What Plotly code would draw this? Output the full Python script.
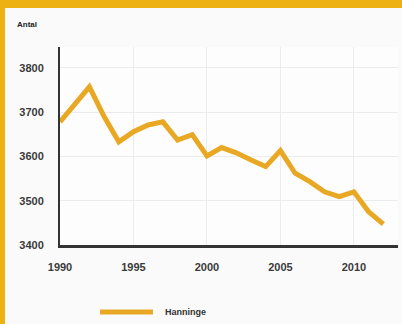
import plotly.graph_objects as go

years = list(range(1990, 2013))
values = [3678, 3718, 3757, 3690, 3633, 3656, 3671, 3678, 3637, 3649, 3601, 3620,
          3608, 3592, 3577, 3613, 3562, 3543, 3520, 3509, 3520, 3475, 3447]
series_name = "Hanninge"
y_label = "Antal"
x_ticks = [1990, 1995, 2000, 2005, 2010]
y_ticks = [3400, 3500, 3600, 3700, 3800]

LINE = "#E8A824"
BORDER = "#EDB112"
TXT = "#3a3a3a"

PW, PH = 338, 198  # plot area size in px
T, L = 47, 60

def px_x(p):
    return (p - L) / PW

def px_y(p):
    return (T + PH - p) / PH

fig = go.Figure()
fig.add_trace(go.Scatter(x=years, y=values, mode="lines", name=series_name,
                         line=dict(color=LINE, width=5, shape="linear"),
                         showlegend=False))

fig.update_layout(
    width=402, height=324,
    margin=dict(l=L, r=4, t=T, b=79),
    paper_bgcolor="#fafafa", plot_bgcolor="#fdfdfd",
    font=dict(family="Liberation Sans, Arial, sans-serif", color=TXT, size=11),
    xaxis=dict(range=[1990, 2013], tickvals=x_ticks, ticktext=[str(v) for v in x_ticks],
               showgrid=True, gridcolor="#ececec", gridwidth=1,
               showline=True, linecolor="#333333", linewidth=3,
               ticks="", ticklabelstandoff=10, zeroline=False,
               tickfont=dict(size=11, color=TXT, weight="bold")),
    yaxis=dict(range=[3400, 3847], tickvals=y_ticks, ticktext=[str(v) for v in y_ticks],
               showgrid=True, gridcolor="#ececec", gridwidth=1,
               showline=True, linecolor="#333333", linewidth=2,
               ticks="", ticklabelstandoff=12, zeroline=False,
               tickfont=dict(size=11, color=TXT, weight="bold")),
    shapes=[
        dict(type="rect", xref="paper", yref="paper", x0=px_x(0), x1=px_x(402),
             y0=px_y(8), y1=px_y(0), fillcolor=BORDER, line_width=0, layer="above"),
        dict(type="rect", xref="paper", yref="paper", x0=px_x(0), x1=px_x(5),
             y0=px_y(324), y1=px_y(0), fillcolor=BORDER, line_width=0, layer="above"),
        dict(type="line", xref="paper", yref="paper", x0=px_x(100), x1=px_x(153),
             y0=px_y(312), y1=px_y(312), line=dict(color=LINE, width=5)),
    ],
    annotations=[
        dict(text=y_label, xref="paper", yref="paper", x=px_x(15), y=px_y(24),
             xanchor="left", yanchor="middle", showarrow=False,
             font=dict(size=8, color="#222222", weight="bold")),
        dict(text=series_name, xref="paper", yref="paper", x=px_x(163), y=px_y(312),
             xanchor="left", yanchor="middle", showarrow=False,
             font=dict(size=9, color="#333333", weight="bold")),
    ],
)

fig.write_html("out.html", config={"displayModeBar": False},
               post_script="document.body.style.margin='0';document.body.style.padding='0';")
